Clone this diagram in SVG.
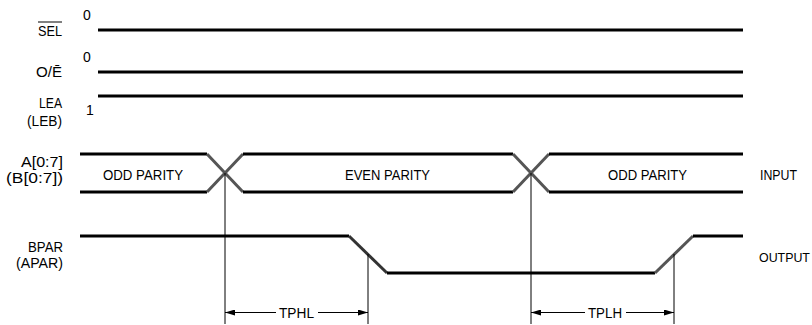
<svg xmlns="http://www.w3.org/2000/svg" width="812" height="325" viewBox="0 0 812 325">
<defs>
<style>
text{font-family:"Liberation Sans",Arial,sans-serif;font-size:14px;fill:#000}
.lbl{text-anchor:end}
.sig{stroke:#000;stroke-width:3;fill:none;stroke-linecap:butt}
.edge{stroke:#555;stroke-width:3;fill:none}
.thin{stroke:#000;stroke-width:1;fill:none}
</style>
<marker id="ah" viewBox="0 0 10 6" refX="10" refY="3" markerWidth="10" markerHeight="6" markerUnits="userSpaceOnUse" orient="auto-start-reverse">
<path d="M0,0 L10,3 L0,6 Z" fill="#000"/>
</marker>
</defs>
<rect width="812" height="325" fill="#fff"/>

<g id="sel">
<text class="lbl" x="62" y="36" textLength="24" lengthAdjust="spacingAndGlyphs">SEL</text>
<line class="thin" x1="38" y1="22" x2="62" y2="22"/>
<text x="83" y="20">0</text>
<line class="sig" x1="98" y1="30" x2="743" y2="30"/>
</g>

<g id="oe">
<text class="lbl" x="62" y="77" textLength="26" lengthAdjust="spacingAndGlyphs">O/Ē</text>
<text x="83" y="62">0</text>
<line class="sig" x1="98" y1="72" x2="743" y2="72"/>
</g>

<g id="lea">
<text class="lbl" x="62" y="108" textLength="23" lengthAdjust="spacingAndGlyphs">LEA</text>
<text class="lbl" x="62" y="126" textLength="35" lengthAdjust="spacingAndGlyphs">(LEB)</text>
<text x="86" y="115">1</text>
<line class="sig" x1="98" y1="96" x2="743" y2="96"/>
</g>

<g id="abus">
<text class="lbl" x="63" y="167" textLength="42" lengthAdjust="spacingAndGlyphs">A[0:7]</text>
<text class="lbl" x="63" y="183" textLength="57" lengthAdjust="spacingAndGlyphs">(B[0:7])</text>
<polyline class="sig" points="80,154 207,154"/>
<polyline class="sig" points="80,192 207,192"/>
<line class="edge" x1="207" y1="154" x2="243" y2="192"/>
<line class="edge" x1="207" y1="192" x2="243" y2="154"/>
<polyline class="sig" points="243,154 513,154"/>
<polyline class="sig" points="243,192 513,192"/>
<line class="edge" x1="513" y1="154" x2="549" y2="192"/>
<line class="edge" x1="513" y1="192" x2="549" y2="154"/>
<polyline class="sig" points="549,154 743,154"/>
<polyline class="sig" points="549,192 743,192"/>
<text x="103" y="180" textLength="80" lengthAdjust="spacingAndGlyphs">ODD PARITY</text>
<text x="345" y="180" textLength="85" lengthAdjust="spacingAndGlyphs">EVEN PARITY</text>
<text x="608" y="180" textLength="79" lengthAdjust="spacingAndGlyphs">ODD PARITY</text>
<text x="760" y="180" textLength="37" lengthAdjust="spacingAndGlyphs">INPUT</text>
</g>

<g id="bpar">
<text class="lbl" x="63" y="252" textLength="35" lengthAdjust="spacingAndGlyphs">BPAR</text>
<text class="lbl" x="63" y="268" textLength="47" lengthAdjust="spacingAndGlyphs">(APAR)</text>
<polyline class="sig" points="80,236 349,236"/>
<line class="sig" x1="349" y1="236" x2="387" y2="273" style="stroke:#333"/>
<polyline class="sig" points="387,273 655,273"/>
<line class="edge" x1="655" y1="273" x2="693" y2="236"/>
<polyline class="sig" points="693,236 743,236"/>
<text x="759" y="262" style="font-size:12.4px">OUTPUT</text>
</g>

<g id="connectors">
<line class="thin" x1="225" y1="173" x2="225" y2="324"/>
<line class="thin" x1="368" y1="254" x2="368" y2="324"/>
<line class="thin" x1="531" y1="173" x2="531" y2="324"/>
<line class="thin" x1="674" y1="254" x2="674" y2="324"/>
<line class="thin" x1="276" y1="312.5" x2="225" y2="312.5" marker-end="url(#ah)"/>
<line class="thin" x1="318" y1="312.5" x2="368" y2="312.5" marker-end="url(#ah)"/>
<line class="thin" x1="585" y1="312.5" x2="531" y2="312.5" marker-end="url(#ah)"/>
<line class="thin" x1="626" y1="312.5" x2="674" y2="312.5" marker-end="url(#ah)"/>
</g>

<g id="tphl">
<text x="279" y="318" textLength="35" lengthAdjust="spacingAndGlyphs">TPHL</text>
</g>
<g id="tplh">
<text x="588" y="318" textLength="34" lengthAdjust="spacingAndGlyphs">TPLH</text>
</g>
</svg>
